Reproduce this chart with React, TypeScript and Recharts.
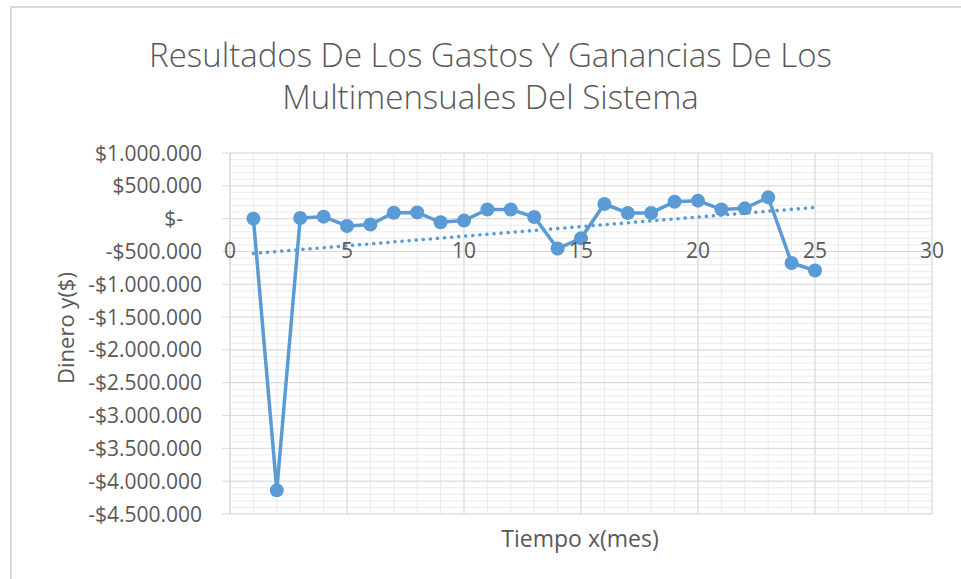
import React from "react";
import {
  CartesianGrid,
  ReferenceDot,
  Scatter,
  ScatterChart,
  XAxis,
  YAxis,
} from "recharts";

// valores (mes -> dinero)
const meses = [
  1, 2, 3, 4, 5, 6, 7, 8, 9, 10, 11, 12, 13, 14, 15, 16, 17, 18, 19, 20, 21,
  22, 23, 24, 25,
];
const dinero = [
  0, -4140000, 10000, 30000, -112000, -90000, 90000, 95000, -55000, -30000,
  140000, 140000, 25000, -456000, -300000, 223000, 87000, 87000, 258000,
  274000, 141000, 157000, 324000, -676000, -790000,
];
// linea de tendencia (extremos leidos)
const tendenciaMeses = [1, 25];
const tendenciaDinero = [-530000, 171000];

const xTicks = [0, 5, 10, 15, 20, 25, 30];
const yTicks = [
  1000000, 500000, 0, -500000, -1000000, -1500000, -2000000, -2500000,
  -3000000, -3500000, -4000000, -4500000,
];

const xMinor = Array.from({ length: 31 }, (_, i) => i);
const yMinor = Array.from({ length: 56 }, (_, i) => 1000000 - i * 100000);

const serie = meses.map((m, i) => ({ x: m, y: dinero[i] }));
const tendencia = tendenciaMeses.map((m, i) => ({ x: m, y: tendenciaDinero[i] }));

const FONT = "'Open Sans', sans-serif";
const GRIS = "#595959";
const AZUL = "#5b9bd5";

const formato = (v: number) => {
  if (v === 0) return "$-";
  const s = Math.abs(v)
    .toString()
    .replace(/\B(?=(\d{3})+(?!\d))/g, ".");
  return (v < 0 ? "-$" : "$") + s;
};

const YTick = (props: any) => {
  const { x, y, payload } = props;
  const v = payload.value;
  return (
    <text
      x={v === 0 ? x - 19 : x}
      y={y}
      dy="0.36em"
      textAnchor="end"
      fill={GRIS}
      fontSize={21}
      fontFamily={FONT}
    >
      {formato(v)}
    </text>
  );
};

const Punto = (props: any) => (
  <circle cx={props.cx} cy={props.cy} r={7} fill={AZUL} />
);

const Nada = () => <g />;

export default function App() {
  return (
    <div
      style={{
        position: "absolute",
        left: 0,
        top: 0,
        width: 961,
        height: 579,
        overflow: "hidden",
        background: "#fff",
        fontFamily: FONT,
        color: GRIS,
      }}
    >
      <div
        style={{
          position: "absolute",
          left: 10,
          top: 6,
          right: 0,
          bottom: 0,
          borderTop: "2px solid #d9d9d9",
          borderLeft: "2px solid #d9d9d9",
        }}
      />
      <div
        style={{
          position: "absolute",
          left: 10,
          top: 34,
          width: 961,
          textAlign: "center",
          fontSize: 33,
          lineHeight: "42px",
          fontWeight: 300,
        }}
      >
        Resultados De Los Gastos Y Ganancias De Los
        <br />
        Multimensuales Del Sistema
      </div>
      <div style={{ position: "absolute", left: 0, top: 0 }}>
        <ScatterChart
          width={961}
          height={579}
          margin={{ top: 153, right: 29, bottom: 65, left: 30 }}
        >
          <CartesianGrid
            stroke="#ebebeb"
            horizontalValues={yMinor}
            verticalValues={xMinor}
          />
          <CartesianGrid
            stroke="#d9d9d9"
            horizontalValues={yTicks}
            verticalValues={xTicks}
          />
          <XAxis
            type="number"
            dataKey="x"
            domain={[0, 30]}
            ticks={xTicks}
            hide
          />
          <YAxis
            type="number"
            dataKey="y"
            domain={[-4500000, 1000000]}
            ticks={yTicks}
            interval={0}
            width={200}
            tickSize={8}
            tickMargin={20}
            tickLine={{ stroke: "#d9d9d9" }}
            axisLine={{ stroke: "#d9d9d9" }}
            tick={<YTick />}
          />
          {xTicks.map((t) => (
            <ReferenceDot
              key={t}
              x={t}
              y={0}
              r={0}
              fill="none"
              stroke="none"
              label={{
                value: String(t),
                position: "bottom",
                offset: 24,
                fill: GRIS,
                fontSize: 21,
                fontFamily: FONT,
              }}
            />
          ))}
          <Scatter
            data={serie}
            fill={AZUL}
            line={{ stroke: AZUL, strokeWidth: 3.5 }}
            shape={<Punto />}
            isAnimationActive={false}
          />
          <Scatter
            data={tendencia}
            line={{
              stroke: AZUL,
              strokeWidth: 3.5,
              strokeDasharray: "0.1 7",
              strokeLinecap: "round",
            }}
            shape={<Nada />}
            isAnimationActive={false}
          />
        </ScatterChart>
      </div>
      <div
        style={{
          position: "absolute",
          left: 430,
          top: 523,
          width: 300,
          textAlign: "center",
          fontSize: 23,
          lineHeight: "30px",
        }}
      >
        Tiempo x(mes)
      </div>
      <div
        style={{
          position: "absolute",
          left: 65,
          top: 328,
          transform: "translate(-50%, -50%) rotate(-90deg)",
          whiteSpace: "nowrap",
          fontSize: 22,
          lineHeight: "30px",
        }}
      >
        Dinero y($)
      </div>
    </div>
  );
}
